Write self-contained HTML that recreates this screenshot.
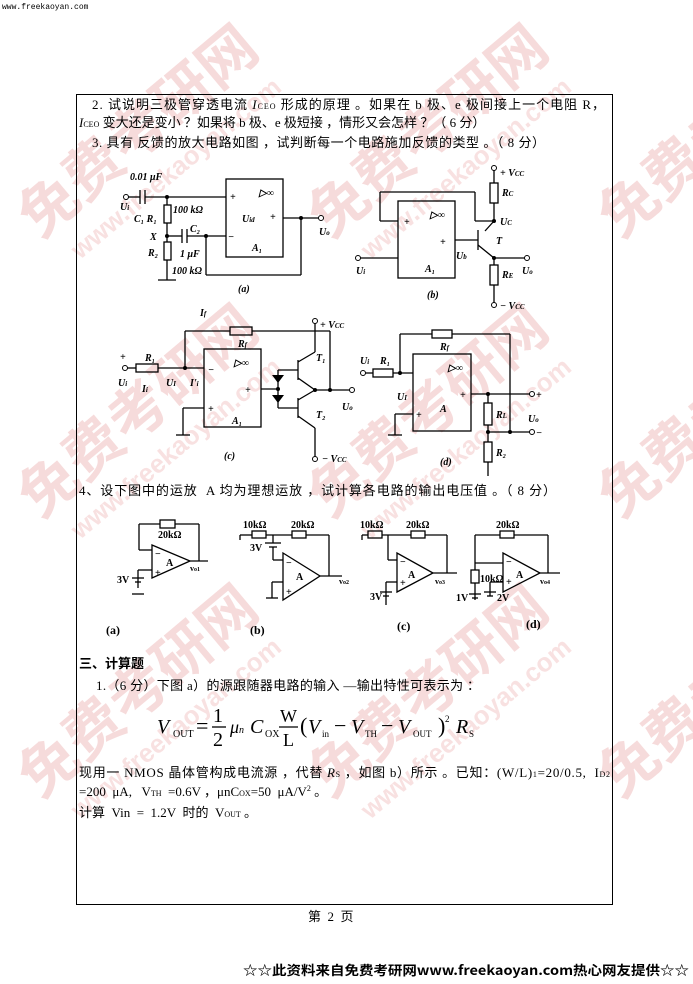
<!DOCTYPE html>
<html><head><meta charset="utf-8"><style>
html,body{margin:0;padding:0;background:#fff;}
body{width:693px;height:984px;overflow:hidden;position:relative;font-family:"Liberation Serif","Noto Serif CJK SC","WenQuanYi Zen Hei",serif;}
svg{position:absolute;left:0;top:0;}
.t{font-family:"Liberation Serif","WenQuanYi Zen Hei","Noto Sans CJK SC",serif;font-size:13px;fill:#000;}
.s{font-family:"Liberation Serif",serif;font-size:10px;font-style:italic;font-weight:bold;fill:#000;}
.wm{font-family:"Noto Sans CJK SC","WenQuanYi Zen Hei",sans-serif;font-size:58px;font-weight:bold;fill:#e89a9a;opacity:.35;}
.wm2{font-family:"Liberation Sans",sans-serif;font-size:26px;font-weight:bold;fill:#f0b5b5;opacity:.4;}
</style></head><body>
<svg width="693" height="984" viewBox="0 0 693 984" xmlns="http://www.w3.org/2000/svg">
<g>
<text class="wm" transform="translate(40,240) rotate(-40)">免费考研网</text>
<text class="wm2" transform="translate(80,260) rotate(-40)">www.freekaoyan.com</text>
<text class="wm" transform="translate(330,240) rotate(-40)">免费考研网</text>
<text class="wm2" transform="translate(370,260) rotate(-40)">www.freekaoyan.com</text>
<text class="wm" transform="translate(620,240) rotate(-40)">免费考研网</text>
<text class="wm" transform="translate(40,520) rotate(-40)">免费考研网</text>
<text class="wm2" transform="translate(80,540) rotate(-40)">www.freekaoyan.com</text>
<text class="wm" transform="translate(330,520) rotate(-40)">免费考研网</text>
<text class="wm2" transform="translate(370,540) rotate(-40)">www.freekaoyan.com</text>
<text class="wm" transform="translate(620,520) rotate(-40)">免费考研网</text>
<text class="wm" transform="translate(40,800) rotate(-40)">免费考研网</text>
<text class="wm2" transform="translate(80,820) rotate(-40)">www.freekaoyan.com</text>
<text class="wm" transform="translate(330,800) rotate(-40)">免费考研网</text>
<text class="wm2" transform="translate(370,820) rotate(-40)">www.freekaoyan.com</text>
<text class="wm" transform="translate(620,800) rotate(-40)">免费考研网</text>
</g>
<text x="2" y="9" style="font-family:'Liberation Mono',monospace;font-size:8px;">www.freekaoyan.com</text>
<rect x="76.5" y="94.5" width="536" height="810" fill="none" stroke="#000" stroke-width="1"/>
<text class="t" x="92" y="109" textLength="513" lengthAdjust="spacing">2. 试说明三极管穿透电流 <tspan font-style="italic">I</tspan><tspan font-size="8">CEO</tspan> 形成的原理 。如果在 b 极、e 极间接上一个电阻 R，</text>
<text class="t" x="79" y="127"><tspan font-style="italic">I</tspan><tspan font-size="8">CEO</tspan> 变大还是变小 ？如果将 b 极、e 极短接 ，情形又会怎样 ？（ 6 分）</text>
<text class="t" x="92" y="147" textLength="453" lengthAdjust="spacing">3. 具有 反馈的放大电路如图 ，试判断每一个电路施加反馈的类型 。（ 8 分）</text>

<g stroke="#000" stroke-width="1.3" fill="none">
<rect x="226" y="179" width="57" height="78"/>
<line x1="127" y1="197" x2="140" y2="197"/><line x1="140" y1="190" x2="140" y2="204"/><line x1="145" y1="190" x2="145" y2="204"/>
<line x1="145" y1="197" x2="226" y2="197"/>
<line x1="167" y1="197" x2="167" y2="205"/><rect x="164" y="205" width="7" height="18"/><line x1="167" y1="223" x2="167" y2="236"/>
<line x1="167" y1="236" x2="182" y2="236"/><line x1="182" y1="229" x2="182" y2="243"/><line x1="187" y1="229" x2="187" y2="243"/><line x1="187" y1="236" x2="226" y2="236"/>
<line x1="167" y1="236" x2="167" y2="242"/><rect x="164" y="242" width="7" height="18"/><line x1="167" y1="260" x2="167" y2="280"/><line x1="158" y1="280" x2="176" y2="280"/>
<line x1="283" y1="218" x2="320" y2="218"/><line x1="301" y1="218" x2="301" y2="275"/><line x1="301" y1="275" x2="206" y2="275"/><line x1="206" y1="275" x2="206" y2="236"/>
<rect x="398" y="201" width="57" height="77"/>
<line x1="380" y1="192" x2="380" y2="221"/><line x1="380" y1="192" x2="475" y2="192"/><line x1="475" y1="192" x2="475" y2="221"/><line x1="380" y1="221" x2="398" y2="221"/>
<line x1="475" y1="221" x2="494" y2="221"/>
<line x1="494" y1="170" x2="494" y2="183"/><rect x="490" y="183" width="8" height="20"/><line x1="494" y1="203" x2="494" y2="221"/>
<line x1="494" y1="221" x2="485" y2="231"/><line x1="478" y1="230" x2="478" y2="250"/><line x1="455" y1="240" x2="478" y2="240"/>
<line x1="478" y1="245" x2="494" y2="258"/><line x1="494" y1="258" x2="525" y2="258"/>
<line x1="494" y1="258" x2="494" y2="265"/><rect x="490" y="265" width="8" height="20"/><line x1="494" y1="285" x2="494" y2="303"/>
<line x1="360" y1="258" x2="398" y2="258"/>
<rect x="204" y="349" width="57" height="78"/>
<line x1="127" y1="368" x2="136" y2="368"/><rect x="136" y="364" width="22" height="8"/><line x1="158" y1="368" x2="204" y2="368"/>
<line x1="185" y1="368" x2="185" y2="331"/><line x1="185" y1="331" x2="230" y2="331"/><rect x="230" y="327" width="22" height="8"/><line x1="252" y1="331" x2="330" y2="331"/><line x1="330" y1="331" x2="330" y2="390"/>
<line x1="183" y1="408" x2="204" y2="408"/><line x1="183" y1="408" x2="183" y2="435"/><line x1="176" y1="435" x2="190" y2="435"/>
<line x1="261" y1="389" x2="278" y2="389"/><line x1="278" y1="370" x2="278" y2="408"/>
<line x1="278" y1="370" x2="298" y2="370"/><line x1="278" y1="408" x2="298" y2="408"/>
<line x1="298" y1="360" x2="298" y2="380"/><line x1="298" y1="398" x2="298" y2="418"/>
<line x1="298" y1="362" x2="315" y2="352"/><line x1="315" y1="352" x2="315" y2="323"/>
<line x1="298" y1="378" x2="315" y2="390"/><line x1="298" y1="400" x2="315" y2="390"/>
<line x1="298" y1="416" x2="315" y2="428"/><line x1="315" y1="428" x2="315" y2="457"/>
<line x1="315" y1="390" x2="350" y2="390"/>
<rect x="413" y="354" width="58" height="77"/>
<line x1="365" y1="373" x2="373" y2="373"/><rect x="373" y="369" width="20" height="8"/><line x1="393" y1="373" x2="413" y2="373"/>
<line x1="400" y1="373" x2="400" y2="334"/><line x1="400" y1="334" x2="432" y2="334"/><rect x="432" y="330" width="20" height="8"/><line x1="452" y1="334" x2="510" y2="334"/><line x1="510" y1="334" x2="510" y2="432"/>
<line x1="395" y1="414" x2="413" y2="414"/><line x1="395" y1="414" x2="395" y2="435"/><line x1="388" y1="435" x2="402" y2="435"/>
<line x1="471" y1="394" x2="530" y2="394"/><line x1="488" y1="394" x2="488" y2="403"/><rect x="484" y="403" width="8" height="22"/><line x1="488" y1="425" x2="488" y2="442"/>
<line x1="488" y1="432" x2="530" y2="432"/><rect x="484" y="442" width="8" height="20"/><line x1="488" y1="462" x2="488" y2="476"/>
</g>
<g fill="#000">
<circle cx="167" cy="197" r="2"/><circle cx="167" cy="236" r="2"/><circle cx="206" cy="236" r="2"/><circle cx="301" cy="218" r="2"/>
<circle cx="494" cy="221" r="2"/><circle cx="494" cy="258" r="2"/>
<circle cx="185" cy="368" r="2"/><circle cx="278" cy="389" r="2"/><circle cx="315" cy="390" r="2"/><circle cx="330" cy="390" r="2"/>
<circle cx="400" cy="373" r="2"/><circle cx="488" cy="394" r="2"/><circle cx="488" cy="432" r="2"/><circle cx="510" cy="432" r="2"/>
<polygon points="272,375 284,375 278,383"/><polygon points="272,395 284,395 278,403"/>
</g>
<g fill="#fff" stroke="#000" stroke-width="1">
<circle cx="126" cy="197" r="2.5"/><circle cx="321" cy="218" r="2.5"/><circle cx="494" cy="168" r="2.5"/><circle cx="527" cy="258" r="2.5"/><circle cx="494" cy="305" r="2.5"/><circle cx="358" cy="258" r="2.5"/>
<circle cx="125" cy="368" r="2.5"/><circle cx="352" cy="390" r="2.5"/><circle cx="315" cy="321" r="2.5"/><circle cx="315" cy="459" r="2.5"/>
<circle cx="363" cy="373" r="2.5"/><circle cx="532" cy="394" r="2.5"/><circle cx="532" cy="432" r="2.5"/>
</g>
<g class="s">
<text class="s" x="130" y="180">0.01 μF</text><text class="s" x="120" y="210">U<tspan font-size="7">i</tspan></text>
<text class="s" x="134" y="222">C₁ R₁</text><text class="s" x="173" y="213">100 kΩ</text><text class="s" x="150" y="240">X</text>
<text class="s" x="190" y="232">C₂</text><text class="s" x="148" y="256">R₂</text><text class="s" x="180" y="257">1 μF</text>
<text class="s" x="172" y="274">100 kΩ</text><text class="s" x="259" y="196">▷∞</text><text class="s" x="230" y="200">+</text><text class="s" x="228" y="240">−</text>
<text class="s" x="242" y="222">U<tspan font-size="7">id</tspan></text><text class="s" x="270" y="220">+</text><text class="s" x="252" y="251">A₁</text>
<text class="s" x="319" y="235">U<tspan font-size="7">o</tspan></text><text class="s" x="238" y="292">(a)</text>
<text class="s" x="500" y="176">+ V<tspan font-size="7">CC</tspan></text><text class="s" x="502" y="196">R<tspan font-size="7">C</tspan></text><text class="s" x="500" y="225">U<tspan font-size="7">C</tspan></text>
<text class="s" x="430" y="218">▷∞</text><text class="s" x="404" y="225">+</text><text class="s" x="440" y="245">+</text><text class="s" x="496" y="244">T</text>
<text class="s" x="456" y="259">U<tspan font-size="7">b</tspan></text><text class="s" x="356" y="274">U<tspan font-size="7">i</tspan></text><text class="s" x="425" y="272">A₁</text>
<text class="s" x="502" y="278">R<tspan font-size="7">E</tspan></text><text class="s" x="522" y="274">U<tspan font-size="7">o</tspan></text><text class="s" x="500" y="309">− V<tspan font-size="7">CC</tspan></text><text class="s" x="427" y="298">(b)</text>
<text class="s" x="200" y="316">I<tspan font-size="7">f</tspan></text><text class="s" x="238" y="347">R<tspan font-size="7">f</tspan></text><text class="s" x="145" y="361">R₁</text>
<text class="s" x="120" y="360">+</text><text class="s" x="118" y="386">U<tspan font-size="7">i</tspan></text><text class="s" x="142" y="392">I<tspan font-size="7">i</tspan></text>
<text class="s" x="166" y="386">U<tspan font-size="7">I</tspan></text><text class="s" x="190" y="386">I'<tspan font-size="7">i</tspan></text>
<text class="s" x="234" y="366">▷∞</text><text class="s" x="208" y="373">−</text><text class="s" x="245" y="393">+</text><text class="s" x="208" y="412">+</text><text class="s" x="232" y="424">A₁</text>
<text class="s" x="320" y="328">+ V<tspan font-size="7">CC</tspan></text><text class="s" x="316" y="361">T₁</text><text class="s" x="316" y="418">T₂</text>
<text class="s" x="342" y="410">U<tspan font-size="7">o</tspan></text><text class="s" x="322" y="462">− V<tspan font-size="7">CC</tspan></text><text class="s" x="224" y="459">(c)</text>
<text class="s" x="440" y="350">R<tspan font-size="7">f</tspan></text><text class="s" x="360" y="364">U<tspan font-size="7">i</tspan></text><text class="s" x="380" y="364">R₁</text>
<text class="s" x="397" y="400">U<tspan font-size="7">I</tspan></text><text class="s" x="448" y="371">▷∞</text><text class="s" x="416" y="418">+</text><text class="s" x="460" y="398">+</text>
<text class="s" x="440" y="412">A</text><text class="s" x="496" y="418">R<tspan font-size="7">L</tspan></text><text class="s" x="528" y="422">U<tspan font-size="7">o</tspan></text>
<text class="s" x="536" y="398">+</text><text class="s" x="536" y="436">−</text><text class="s" x="496" y="456">R₂</text><text class="s" x="440" y="465">(d)</text>
</g>

<text class="t" x="79" y="495" textLength="477" lengthAdjust="spacing">4、设下图中的运放 &#160;A 均为理想运放 ，试计算各电路的输出电压值 。（ 8 分）</text>

<g stroke="#000" stroke-width="1.3" fill="none">
<polygon points="152,545 152,578 190,561"/><line x1="139" y1="550" x2="152" y2="550"/><line x1="139" y1="550" x2="139" y2="524"/>
<line x1="139" y1="524" x2="160" y2="524"/><rect x="160" y="520" width="15" height="8"/><line x1="175" y1="524" x2="199" y2="524"/><line x1="199" y1="524" x2="199" y2="561"/>
<line x1="190" y1="561" x2="208" y2="561"/><line x1="152" y1="570" x2="138" y2="570"/><line x1="138" y1="570" x2="138" y2="588"/>
<line x1="132" y1="578" x2="144" y2="578"/><line x1="135" y1="582" x2="141" y2="582"/><line x1="132" y1="594" x2="144" y2="594"/>
<polygon points="283,553 283,600 320,576"/><line x1="240" y1="535" x2="252" y2="535"/><line x1="240" y1="535" x2="240" y2="540"/>
<rect x="252" y="531" width="14" height="7"/><line x1="266" y1="535" x2="292" y2="535"/><rect x="292" y="531" width="14" height="7"/><line x1="306" y1="535" x2="329" y2="535"/><line x1="329" y1="535" x2="329" y2="576"/>
<line x1="273" y1="535" x2="273" y2="543"/><line x1="265" y1="543" x2="281" y2="543"/><line x1="269" y1="547" x2="277" y2="547"/><line x1="273" y1="547" x2="273" y2="560"/><line x1="273" y1="560" x2="283" y2="560"/>
<line x1="320" y1="576" x2="342" y2="576"/><line x1="283" y1="582" x2="272" y2="582"/><line x1="272" y1="582" x2="272" y2="598"/><line x1="266" y1="598" x2="278" y2="598"/>
<polygon points="397,553 397,592 433,573"/><line x1="362" y1="535" x2="368" y2="535"/><line x1="362" y1="535" x2="362" y2="540"/>
<rect x="368" y="531" width="14" height="7"/><line x1="382" y1="535" x2="411" y2="535"/><rect x="411" y="531" width="14" height="7"/><line x1="425" y1="535" x2="447" y2="535"/><line x1="447" y1="535" x2="447" y2="573"/>
<line x1="388" y1="535" x2="388" y2="560"/><line x1="388" y1="560" x2="397" y2="560"/><line x1="433" y1="573" x2="457" y2="573"/>
<line x1="397" y1="582" x2="386" y2="582"/><line x1="386" y1="582" x2="386" y2="605"/><line x1="380" y1="592" x2="392" y2="592"/><line x1="383" y1="596" x2="389" y2="596"/>
<polygon points="503,553 503,592 540,573"/><line x1="475" y1="535" x2="475" y2="563"/><line x1="475" y1="535" x2="500" y2="535"/><rect x="500" y="531" width="14" height="7"/><line x1="514" y1="535" x2="548" y2="535"/><line x1="548" y1="535" x2="548" y2="573"/>
<line x1="475" y1="563" x2="503" y2="563"/><line x1="540" y1="573" x2="560" y2="573"/><line x1="475" y1="563" x2="475" y2="570"/><rect x="471" y="570" width="8" height="13"/><line x1="475" y1="583" x2="475" y2="600"/>
<line x1="469" y1="594" x2="481" y2="594"/><line x1="472" y1="598" x2="478" y2="598"/>
<line x1="503" y1="582" x2="490" y2="582"/><line x1="490" y1="582" x2="490" y2="596"/><line x1="484" y1="592" x2="496" y2="592"/><line x1="487" y1="596" x2="493" y2="596"/>
</g>
<g fill="#000" font-family="Liberation Serif,serif" font-size="10" font-weight="bold">
<text x="158" y="538">20kΩ</text><text x="155" y="557">−</text><text x="155" y="576">+</text><text x="166" y="566">A</text><text x="190" y="571" font-size="8">v<tspan font-size="6">o1</tspan></text><text x="117" y="583">3V</text>
<text x="243" y="528">10kΩ</text><text x="291" y="528">20kΩ</text><text x="250" y="551">3V</text><text x="286" y="566">−</text><text x="286" y="595">+</text><text x="296" y="580">A</text><text x="339" y="584" font-size="8">v<tspan font-size="6">o2</tspan></text>
<text x="360" y="528">10kΩ</text><text x="406" y="528">20kΩ</text><text x="400" y="565">−</text><text x="400" y="586">+</text><text x="408" y="578">A</text><text x="435" y="584" font-size="8">v<tspan font-size="6">o3</tspan></text><text x="370" y="600">3V</text>
<text x="496" y="528">20kΩ</text><text x="480" y="582">10kΩ</text><text x="506" y="565">−</text><text x="506" y="585">+</text><text x="516" y="578">A</text><text x="540" y="584" font-size="8">v<tspan font-size="6">o4</tspan></text><text x="456" y="601">1V</text><text x="497" y="601">2V</text>
<text x="106" y="634" font-size="12">(a)</text><text x="250" y="634" font-size="12">(b)</text><text x="397" y="630" font-size="12">(c)</text><text x="526" y="628" font-size="12">(d)</text>
</g>

<text class="t" x="79" y="668" font-weight="bold" font-size="14">三、计算题</text>
<text class="t" x="96" y="690" textLength="384" lengthAdjust="spacing">1.（6 分）下图 a）的源跟随器电路的输入 —输出特性可表示为 ：</text>
<g font-family="Liberation Serif,serif" fill="#000">
<text x="157" y="733" font-size="20" font-style="italic">V</text><text x="173" y="737" font-size="10">OUT</text>
<text x="196" y="733" font-size="22">=</text>
<text x="213" y="722" font-size="20">1</text><line x1="212" y1="727" x2="226" y2="727" stroke="#000" stroke-width="1.3"/><text x="213" y="746" font-size="20">2</text>
<text x="230" y="733" font-size="18" font-style="italic">μ<tspan font-size="10">n</tspan></text><text x="250" y="733" font-size="20" font-style="italic">C</text><text x="265" y="737" font-size="10">OX</text>
<text x="280" y="722" font-size="18">W</text><line x1="279" y1="727" x2="298" y2="727" stroke="#000" stroke-width="1.3"/><text x="283" y="746" font-size="18">L</text>
<text x="300" y="733" font-size="22">(</text><text x="308" y="733" font-size="20" font-style="italic">V</text><text x="322" y="737" font-size="9">in</text>
<text x="334" y="733" font-size="22">−</text><text x="351" y="733" font-size="20" font-style="italic">V</text><text x="365" y="737" font-size="9">TH</text>
<text x="381" y="733" font-size="22">−</text><text x="398" y="733" font-size="20" font-style="italic">V</text><text x="413" y="737" font-size="9">OUT</text>
<text x="438" y="733" font-size="22">)</text><text x="445" y="722" font-size="9">2</text><text x="456" y="733" font-size="20" font-style="italic">R</text><text x="469" y="737" font-size="9">S</text>
</g>
<text class="t" x="79" y="777" textLength="531" lengthAdjust="spacing">现用一 NMOS 晶体管构成电流源 ，代替 <tspan font-style="italic">R</tspan><tspan font-size="8">S</tspan> ，如图 b）所示 。已知：(W/L)<tspan font-size="8">1</tspan>=20/0.5, &#160;I<tspan font-size="8">D2</tspan></text>
<text class="t" x="79" y="796">=200 &#160;μA, &#160; V<tspan font-size="8">TH</tspan> &#160;=0.6V ，μnC<tspan font-size="8">OX</tspan>=50 &#160;μA/V<tspan font-size="8" dy="-5">2</tspan><tspan dy="5"> 。</tspan></text>
<text class="t" x="79" y="817">计算 &#160;Vin &#160;= &#160;1.2V &#160;时的 &#160;V<tspan font-size="8">OUT</tspan> 。</text>

<text class="t" x="308" y="921" font-size="15">第 &#160;2 &#160;页</text>
<text x="243" y="975" textLength="446" lengthAdjust="spacingAndGlyphs" style="font-family:'WenQuanYi Zen Hei','Noto Sans CJK SC',sans-serif;font-size:13px;font-weight:bold;" fill="#000">☆☆此资料来自免费考研网www.freekaoyan.com热心网友提供☆☆</text>
</svg>
</body></html>
